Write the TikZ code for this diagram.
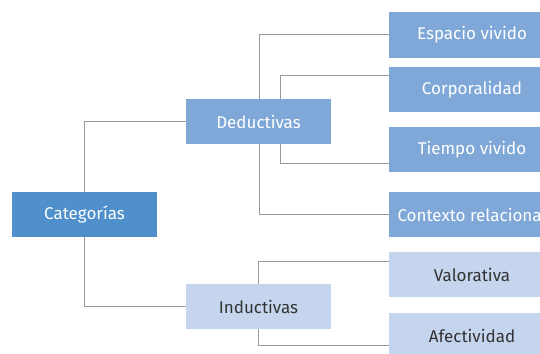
\documentclass[tikz,border=0pt]{standalone}
\usepackage{fontspec}
\setmainfont{Fira Sans}
\usetikzlibrary{backgrounds}
\definecolor{catblue}{HTML}{4F8FCB}
\definecolor{midblue}{HTML}{7FA8D8}
\definecolor{lightblue}{HTML}{C5D5EE}
\definecolor{linegray}{HTML}{9A9A9A}
\definecolor{darktext}{HTML}{333333}
\tikzset{
  box/.style={inner sep=0pt, outer sep=0pt, minimum height=45pt, font=\fontsize{17}{19}\selectfont},
  leftbox/.style={box, minimum width=145pt},
  rightbox/.style={box, minimum width=166pt},
  darkbox/.style={fill=midblue, text=white},
  palebox/.style={fill=lightblue, text=darktext},
  conn/.style={draw=linegray, line width=1pt}
}
\begin{document}
\begin{tikzpicture}[x=1pt,y=-1pt]
\useasboundingbox (0,0) rectangle (540,353);
\clip (0,0) rectangle (540,353);
\node[leftbox, fill=catblue, text=white] (cat) at (84.5,214.5) {Categorías};
\node[leftbox, darkbox] (ded) at (258.5,121.5) {Deductivas};
\node[leftbox, palebox] (ind) at (258.5,306.5) {Inductivas};
\node[rightbox, darkbox] (esp) at (472,35) {Espacio vivido};
\node[rightbox, darkbox] (cor) at (472,89.5) {Corporalidad};
\node[rightbox, darkbox] (tie) at (472,149.5) {Tiempo vivido};
\node[rightbox, darkbox] (con) at (472,214.5) {Contexto relacional};
\node[rightbox, palebox] (val) at (472,274.5) {Valorativa};
\node[rightbox, palebox] (afe) at (472,335.5) {Afectividad};
\begin{scope}[on background layer]
\draw[conn] (cat.north) |- (ded.west);
\draw[conn] (cat.south) |- (ind.west);
\draw[conn] (esp.west) -- ++(-130,0) |- (con.west);
\draw[conn] ([yshift=14.5pt]cor.west) -- ++(-109,0) |- ([yshift=-13.5pt]tie.west);
\draw[conn] ([yshift=13.5pt]val.west) -- ++(-131,0) |- ([yshift=-9.5pt]afe.west);
\end{scope}
\end{tikzpicture}
\end{document}
